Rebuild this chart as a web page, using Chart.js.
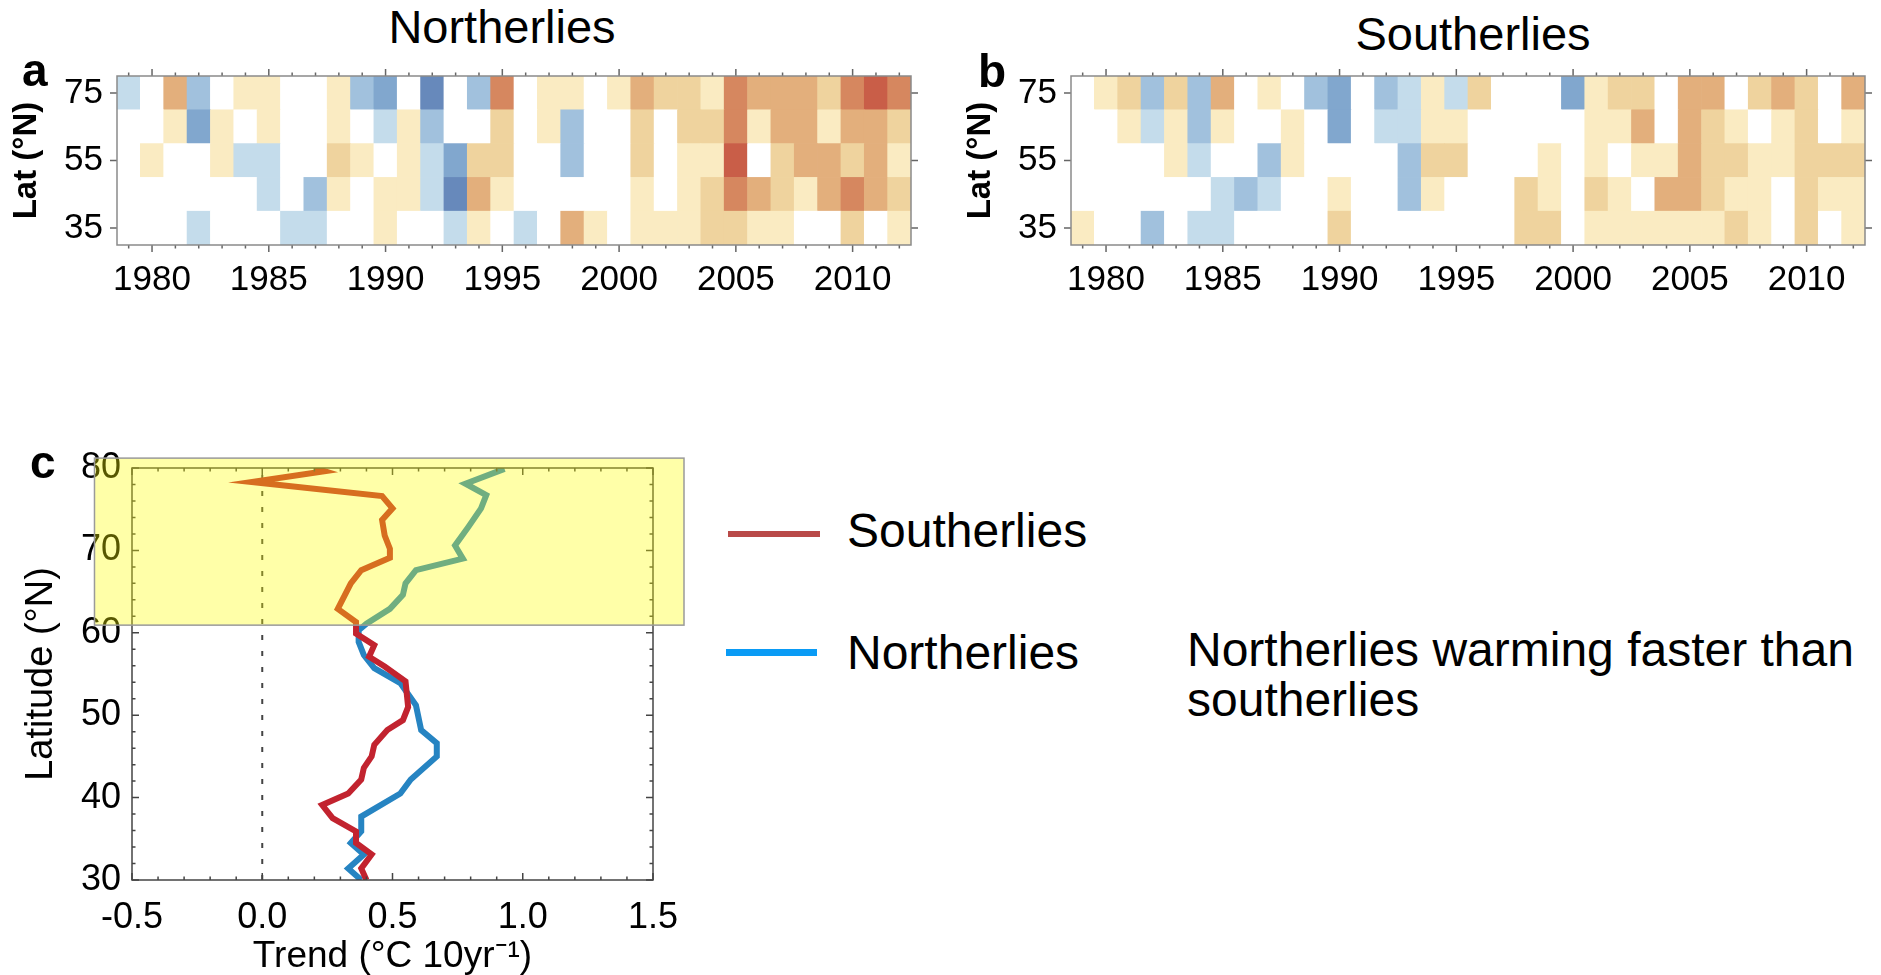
<!DOCTYPE html>
<html lang="en">
<head>
<meta charset="UTF-8">
<title>Northerlies vs southerlies warming trends</title>
<style>
    body {
        margin: 0;
        width: 1881px;
        height: 975px;
        background: #fff;
        position: relative;
        overflow: hidden;
        font-family: 'Liberation Sans', Arial, sans-serif;
        color: #000;
    }
    canvas { position: absolute; }
    .txt { position: absolute; line-height: 1; white-space: nowrap; }
    .title { font-size: 47px; transform: translateX(-50%); }
    .letter { font-size: 46px; font-weight: bold; }
    .key { position: absolute; }
    .keytext { font-size: 48px; }
    .note { font-size: 48px; line-height: 50px; }
</style>
<script src="https://cdn.jsdelivr.net/npm/chart.js"></script>
</head>
<body>
<canvas id="panelA" width="921" height="247" style="left:0; top:68px;"></canvas>
<canvas id="panelB" width="921" height="247" style="left:954px; top:68px;"></canvas>
<canvas id="panelC" width="700" height="535" style="left:0; top:440px;"></canvas>

<div class="txt title" style="left:502px; top:3px;">Northerlies</div>
<div class="txt title" style="left:1473px; top:10px;">Southerlies</div>
<div class="txt letter" style="left:22px; top:47px;">a</div>
<div class="txt letter" style="left:978px; top:48px;">b</div>
<div class="txt letter" style="left:30px; top:439px;">c</div>

<div class="key" style="left:728px; top:531px; width:92px; height:6px; background:#B94A48;"></div>
<div class="txt keytext" style="left:847px; top:507px;">Southerlies</div>
<div class="key" style="left:726px; top:649px; width:91px; height:7px; background:#0A9BF5;"></div>
<div class="txt keytext" style="left:847px; top:629px;">Northerlies</div>
<div class="txt note" style="left:1187px; top:625px;">Northerlies warming faster than<br>southerlies</div>

<script>
    // ---- heatmap data (a: northerlies, b: southerlies) ----
    // levels: -4 (strong cooling, dark blue) .. 0 (white) .. +5 (strong warming, red)
    const years = [1979, 1980, 1981, 1982, 1983, 1984, 1985, 1986, 1987, 1988, 1989,
                   1990, 1991, 1992, 1993, 1994, 1995, 1996, 1997, 1998, 1999, 2000,
                   2001, 2002, 2003, 2004, 2005, 2006, 2007, 2008, 2009, 2010, 2011, 2012];
    const latBands = [[30, 40], [40, 50], [50, 60], [60, 70], [70, 80]];
    const latTickLabels = [35, 55, 75];

    const north35 = [0,0,0,-1,0,0,0,-1,-1,0, 0,1,0,0,-1,1,0,-1,0,3, 1,0,1,1,1,2,2,1,1,0, 0,2,0,1];
    const north45 = [0,0,0,0,0,0,-1,0,-2,1, 0,1,1,-1,-4,3,1,0,0,0, 0,0,1,0,1,2,4,3,2,1, 3,4,3,2];
    const north55 = [0,1,0,0,1,-1,-1,0,0,2, 1,0,1,-1,-3,2,2,0,0,-2, 0,0,2,0,1,1,5,0,2,3, 3,2,3,1];
    const north65 = [0,0,1,-3,1,0,1,0,0,1, 0,-1,1,-2,0,0,2,0,1,-2, 0,0,2,0,2,2,4,1,3,3, 1,3,3,2];
    const north75 = [-1,0,3,-2,0,1,1,0,0,1, -2,-3,0,-4,0,-2,4,0,1,1, 0,1,3,2,2,1,4,3,3,3, 2,4,5,4];

    const south35 = [1,0,0,-2,0,-1,-1,0,0,0, 0,2,0,0,0,0,0,0,0,2, 2,0,1,1,1,1,1,1,2,1, 0,2,0,1];
    const south45 = [0,0,0,0,0,0,-1,-2,-1,0, 0,1,0,0,-2,1,0,0,0,2, 1,0,2,1,0,3,3,2,1,1, 0,2,1,1];
    const south55 = [0,0,0,0,1,-1,0,0,-2,1, 0,0,0,0,-2,2,2,0,0,0, 1,0,1,0,1,1,3,2,2,1, 1,2,2,2];
    const south65 = [0,0,1,-1,1,-2,1,0,0,1, 0,-3,0,-1,-1,1,1,0,0,0, 0,0,1,1,3,0,3,2,1,0, 1,2,0,1];
    const south75 = [0,1,2,-2,2,-2,3,0,1,0, -2,-3,0,-2,-1,1,-1,2,0,0, 0,-3,1,2,2,0,3,3,0,2, 3,2,0,3];

    // ---- panel c: trend profiles ----
    const southLat   = [80.0, 79.6, 78.3, 76.6, 75.1, 73.7, 71.8, 70.2, 69.1, 67.6, 66.0, 62.9,
                        61.3, 60.5, 59.9, 58.5, 57.1, 55.9, 54.1, 51.0, 49.4, 48.2, 46.4, 45.0,
                        43.6, 42.2, 40.5, 39.1, 37.5, 35.9, 34.5, 33.1, 31.4, 30.0];
    const southTrend = [0.20, 0.24, -0.04, 0.46, 0.50, 0.46, 0.47, 0.49, 0.49, 0.38, 0.34, 0.29,
                        0.36, 0.36, 0.36, 0.43, 0.41, 0.47, 0.55, 0.56, 0.54, 0.48, 0.43, 0.42,
                        0.39, 0.38, 0.33, 0.23, 0.27, 0.36, 0.36, 0.42, 0.38, 0.40];
    const northLat   = [79.9, 78.1, 76.7, 75.1, 72.8, 70.6, 69.0, 67.6, 66.0, 64.6, 62.9, 61.1,
                        60.3, 58.9, 57.3, 55.7, 53.9, 51.2, 48.2, 46.6, 45.0, 42.2, 40.5, 37.7,
                        35.9, 34.5, 33.1, 31.4, 30.0];
    const northTrend = [0.93, 0.78, 0.86, 0.84, 0.79, 0.74, 0.77, 0.59, 0.55, 0.54, 0.49, 0.40,
                        0.37, 0.37, 0.39, 0.43, 0.53, 0.59, 0.61, 0.67, 0.67, 0.57, 0.53, 0.38,
                        0.38, 0.34, 0.39, 0.33, 0.38];
    const trendTicks = [-0.5, 0.0, 0.5, 1.0, 1.5];
    const latTicksC = [30, 40, 50, 60, 70, 80];

    const levelColors = {
        '-4': '#6789BB', '-3': '#81A7CE', '-2': '#A1C1DD', '-1': '#C4DCEB', '0': '#FFFFFF',
        '1': '#FAEBC2', '2': '#EFD39E', '3': '#E3AF7C', '4': '#D6875F', '5': '#C95E48'
    };

    Chart.defaults.font.family = "'Liberation Sans', Arial, sans-serif";
    Chart.defaults.color = '#000';

    function range(a, b, step) {
        const out = [];
        for (let v = a; v <= b + 1e-9; v += step) out.push(Math.round(v * 1000) / 1000);
        return out;
    }

    // fixed axis sizes, no automatic label padding around the plot
    const fixWidth = w => s => { s.width = w; s.paddingTop = 0; s.paddingBottom = 0; };
    const fixHeight = h => s => { s.height = h; s.paddingLeft = 0; s.paddingRight = 0; };

    // tick marks on all four sides + frame, positioned through the chart scales
    const frameTicks = {
        id: 'frameTicks',
        afterDraw(chart, args, o) {
            const { ctx, chartArea: a, scales } = chart;
            const xs = scales.x, ys = scales.y;
            const dir = o.inward ? 1 : -1;
            ctx.save();
            ctx.strokeStyle = o.color;
            ctx.lineWidth = o.width;
            ctx.beginPath();
            const mark = (vals, len, horiz) => vals.forEach(v => {
                if (horiz) {
                    const p = xs.getPixelForValue(v);
                    ctx.moveTo(p, a.bottom); ctx.lineTo(p, a.bottom - dir * len);
                    ctx.moveTo(p, a.top); ctx.lineTo(p, a.top + dir * len);
                } else {
                    const p = ys.getPixelForValue(v);
                    ctx.moveTo(a.left, p); ctx.lineTo(a.left + dir * len, p);
                    ctx.moveTo(a.right, p); ctx.lineTo(a.right - dir * len, p);
                }
            });
            mark(o.xMinor, o.minorLen, true);
            mark(o.xMajor, o.majorLen, true);
            mark(o.yMinor, o.minorLen, false);
            mark(o.yMajor, o.majorLen, false);
            ctx.stroke();
            ctx.strokeStyle = o.frame;
            ctx.strokeRect(a.left, a.top, a.width, a.height);
            ctx.restore();
        }
    };

    // translucent yellow box laid over the top of panel c
    const highlight = {
        id: 'highlight',
        afterDraw(chart, args, o) {
            const { ctx, scales: { x, y } } = chart;
            const l = x.getPixelForValue(o.x0), r = x.getPixelForValue(o.x1);
            const t = y.getPixelForValue(o.y1), b = y.getPixelForValue(o.y0);
            ctx.save();
            ctx.fillStyle = o.fill;
            ctx.fillRect(l, t, r - l, b - t);
            ctx.strokeStyle = o.stroke;
            ctx.lineWidth = 1.5;
            ctx.strokeRect(l, t, r - l, b - t);
            ctx.restore();
        }
    };

    function heatChart(id, rows) {
        const yearIdx = years.map((y, i) => i);
        const majorIdx = yearIdx.filter(i => years[i] % 5 === 0);
        return new Chart(document.getElementById(id), {
            type: 'bar',
            data: {
                labels: years,
                datasets: rows.map((levels, i) => ({
                    data: years.map(() => latBands[i]),
                    backgroundColor: levels.map(l => levelColors[l]),
                    grouped: false,
                    barPercentage: 1,
                    categoryPercentage: 1,
                    borderWidth: 0
                }))
            },
            options: {
                responsive: false,
                animation: false,
                layout: { padding: { top: 8, right: 10, left: 0, bottom: 0 } },
                plugins: {
                    legend: { display: false },
                    tooltip: { enabled: false },
                    frameTicks: {
                        inward: false, color: '#666', frame: '#8a8a8a', width: 1.5,
                        minorLen: 3.5, majorLen: 7,
                        xMinor: yearIdx, xMajor: majorIdx,
                        yMinor: [], yMajor: latTickLabels
                    }
                },
                scales: {
                    x: {
                        grid: { display: false, drawTicks: false },
                        border: { display: false },
                        ticks: {
                            autoSkip: false, maxRotation: 0, minRotation: 0,
                            padding: 14,
                            font: { size: 35 },
                            callback: (v, i) => (years[i] % 5 === 0 ? String(years[i]) : '')
                        },
                        afterFit: fixHeight(70)
                    },
                    y: {
                        min: 30, max: 80,
                        grid: { display: false, drawTicks: false },
                        border: { display: false },
                        afterBuildTicks: s => { s.ticks = latTickLabels.map(v => ({ value: v })); },
                        ticks: { padding: 14, font: { size: 35 } },
                        title: {
                            display: true, text: 'Lat (°N)',
                            font: { size: 33, weight: 'bold', lineHeight: 1 },
                            padding: { top: 10, bottom: 0 }
                        },
                        afterFit: fixWidth(117)
                    }
                }
            },
            plugins: [frameTicks]
        });
    }

    heatChart('panelA', [north35, north45, north55, north65, north75]);
    heatChart('panelB', [south35, south45, south55, south65, south75]);

    new Chart(document.getElementById('panelC'), {
        type: 'scatter',
        data: {
            datasets: [
                {
                    label: 'Southerlies',
                    data: southLat.map((lat, i) => ({ x: southTrend[i], y: lat })),
                    showLine: true, borderColor: '#C2232F', borderWidth: 6,
                    pointRadius: 0, order: 0
                },
                {
                    label: 'Northerlies',
                    data: northLat.map((lat, i) => ({ x: northTrend[i], y: lat })),
                    showLine: true, borderColor: '#2684C2', borderWidth: 6,
                    pointRadius: 0, order: 1
                },
                {
                    label: 'zero',
                    data: [{ x: 0, y: 30 }, { x: 0, y: 80 }],
                    showLine: true, borderColor: '#444', borderWidth: 2,
                    borderDash: [5, 11], pointRadius: 0, order: 2
                }
            ]
        },
        options: {
            responsive: false,
            animation: false,
            layout: { padding: { top: 28, right: 47, left: 0, bottom: 0 } },
            plugins: {
                legend: { display: false },
                tooltip: { enabled: false },
                frameTicks: {
                    inward: true, color: '#444', frame: '#444', width: 1.5,
                    minorLen: 3.5, majorLen: 7,
                    xMinor: range(-0.5, 1.5, 0.1), xMajor: trendTicks,
                    yMinor: range(30, 80, 2), yMajor: latTicksC
                },
                highlight: {
                    x0: -0.644, x1: 1.619, y0: 60.93, y1: 81.2,
                    fill: 'rgba(255, 255, 0, 0.34)', stroke: '#9a9a9a'
                }
            },
            scales: {
                x: {
                    type: 'linear', min: -0.5, max: 1.5,
                    grid: { display: false, drawTicks: false },
                    border: { display: false },
                    afterBuildTicks: s => { s.ticks = trendTicks.map(v => ({ value: v })); },
                    ticks: { padding: 16, font: { size: 36 }, callback: v => v.toFixed(1) },
                    title: {
                        display: true, text: 'Trend (°C 10yr⁻¹)',
                        font: { size: 37, lineHeight: 1 },
                        padding: { top: 0, bottom: 0 }
                    },
                    afterFit: fixHeight(95)
                },
                y: {
                    min: 30, max: 80,
                    grid: { display: false, drawTicks: false },
                    border: { display: false },
                    afterBuildTicks: s => { s.ticks = latTicksC.map(v => ({ value: v })); },
                    ticks: { padding: 11, font: { size: 36 } },
                    title: {
                        display: true, text: 'Latitude (°N)',
                        font: { size: 38, lineHeight: 1 },
                        padding: { top: 23, bottom: 0 }
                    },
                    afterFit: fixWidth(132)
                }
            }
        },
        plugins: [frameTicks, highlight]
    });
</script>
</body>
</html>
